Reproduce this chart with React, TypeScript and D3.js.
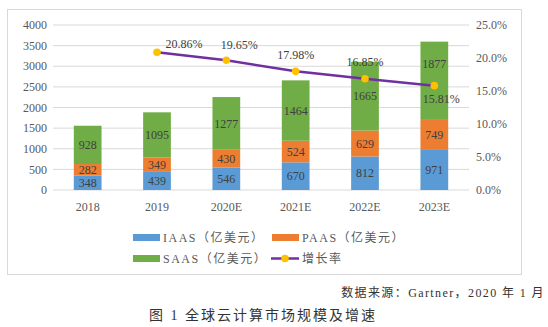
import React from "react";
import * as d3 from "d3";

const years = ["2018", "2019", "2020E", "2021E", "2022E", "2023E"];
const iaas = [348, 439, 546, 670, 812, 971];
const paas = [282, 349, 430, 524, 629, 749];
const saas = [928, 1095, 1277, 1464, 1665, 1877];
const growthYears = ["2019", "2020E", "2021E", "2022E", "2023E"];
const growth = [20.86, 19.65, 17.98, 16.85, 15.81];
const leftTicks = [0, 500, 1000, 1500, 2000, 2500, 3000, 3500, 4000];
const rightTicks = [0, 5, 10, 15, 20, 25];
const seriesNames = ["IAAS（亿美元）", "PAAS（亿美元）", "SAAS（亿美元）"];
const lineName = "增长率";

// label placement offsets (dx, dy) for growth labels
const growthLabelOffsets: [number, number][] = [
  [27, -9], [13, -16], [0, -17], [0, -17], [7, 13],
];

const W = 548, H = 327;
const plotLeft = 53, plotRight = 469, plotTop = 25, plotBottom = 190;
const colors = ["#5B9BD5", "#ED7D31", "#70AD47"];
const lineColor = "#7030A0";
const markerColor = "#FFC000";
const serif = "'Liberation Serif', 'Times New Roman', 'Noto Sans CJK SC', serif";

export default function App() {
  const x = d3.scaleBand().domain(years).range([plotLeft, plotRight]).paddingInner(0.6).paddingOuter(0.3);
  const y = d3.scaleLinear().domain([0, 4000]).range([plotBottom, plotTop]);
  const y2 = d3.scaleLinear().domain([0, 25]).range([plotBottom, plotTop]);
  const stackData = years.map((yr, i) => ({ year: yr, iaas: iaas[i], paas: paas[i], saas: saas[i] }));
  const stacked = d3.stack<any>().keys(["iaas", "paas", "saas"])(stackData);
  const cx = (yr: string) => (x(yr) as number) + x.bandwidth() / 2;
  const line = d3.line<number>().x((_, i) => cx(growthYears[i])).y((d) => y2(d));

  return (
    <svg width={W} height={H} style={{ position: "absolute", left: 0, top: 0, background: "#fff" }}>
      <rect x={7.5} y={9.5} width={514} height={265} fill="#fff" stroke="#d9d9d9" />
      {leftTicks.map((t) => (
        <g key={t}>
          <line x1={plotLeft} x2={plotRight} y1={y(t)} y2={y(t)} stroke="#d9d9d9" />
          <text x={47} y={y(t)} dy="0.35em" textAnchor="end" fontFamily={serif} fontSize={12} fill="#595959">{t}</text>
        </g>
      ))}
      {rightTicks.map((t) => (
        <text key={t} x={476} y={y2(t)} dy="0.35em" textAnchor="start" fontFamily={serif} fontSize={12} fill="#595959">{t.toFixed(1)}%</text>
      ))}
      {stacked.map((s, si) => (
        <g key={si}>
          {s.map((d, i) => (
            <rect key={i} x={x(years[i])} width={x.bandwidth()} y={y(d[1])} height={y(d[0]) - y(d[1])} fill={colors[si]} />
          ))}
        </g>
      ))}
      {stacked.map((s, si) => (
        <g key={"l" + si}>
          {s.map((d, i) => {
            let ly = (y(d[0]) + y(d[1])) / 2;
            if (si === 2 && i === 5) ly -= 17;
            return (
              <text key={i} x={cx(years[i])} y={ly} dy="0.35em" textAnchor="middle" fontFamily={serif} fontSize={12} fill="#404040">
                {(d[1] - d[0])}
              </text>
            );
          })}
        </g>
      ))}
      <path d={line(growth) || ""} fill="none" stroke={lineColor} strokeWidth={2.5} />
      {growth.map((g, i) => (
        <circle key={i} cx={cx(growthYears[i])} cy={y2(g)} r={3.8} fill={markerColor} />
      ))}
      {growth.map((g, i) => (
        <text key={"g" + i} x={cx(growthYears[i]) + growthLabelOffsets[i][0]} y={y2(g) + growthLabelOffsets[i][1]} dy="0.35em" textAnchor="middle" fontFamily={serif} fontSize={12} fill="#404040">
          {g.toFixed(2)}%
        </text>
      ))}
      {years.map((yr) => (
        <text key={yr} x={cx(yr)} y={207} dy="0.35em" textAnchor="middle" fontFamily={serif} fontSize={12} fill="#595959">{yr}</text>
      ))}
      {/* legend */}
      <g fontFamily={serif} fontSize={12} fill="#595959" letterSpacing={1.5}>
        <rect x={133} y={234} width={27} height={7} fill={colors[0]} />
        <text x={163} y={237.5} dy="0.35em">{seriesNames[0]}</text>
        <rect x={272} y={234} width={27} height={7} fill={colors[1]} />
        <text x={302} y={237.5} dy="0.35em">{seriesNames[1]}</text>
        <rect x={133} y={255} width={27} height={7} fill={colors[2]} />
        <text x={163} y={258.5} dy="0.35em">{seriesNames[2]}</text>
        <line x1={271} x2={299} y1={258.5} y2={258.5} stroke={lineColor} strokeWidth={2.5} />
        <circle cx={285} cy={258.5} r={3.8} fill={markerColor} />
        <text x={302} y={258.5} dy="0.35em">{lineName}</text>
      </g>
      <text x={545} y={293} dy="0.35em" textAnchor="end" fontFamily={serif} fontSize={12} fill="#333" letterSpacing={1.4}>数据来源：Gartner，2020 年 1 月</text>
      <text x={263} y={315} dy="0.35em" textAnchor="middle" fontFamily={serif} fontSize={14} fill="#333" letterSpacing={2}>图 1  全球云计算市场规模及增速</text>
    </svg>
  );
}
